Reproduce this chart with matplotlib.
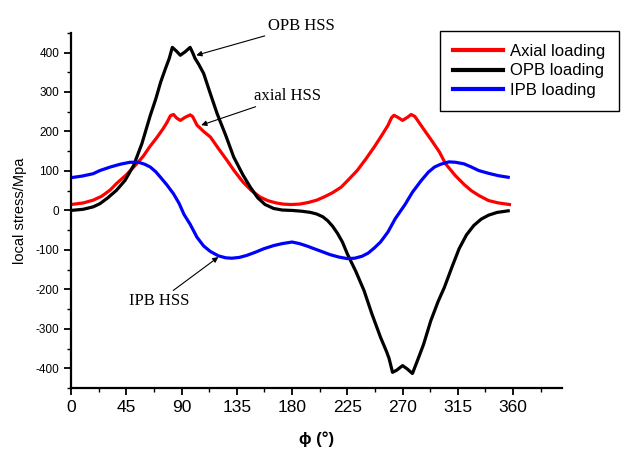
import matplotlib
matplotlib.use("Agg")
from matplotlib import pyplot as plt
from matplotlib.ticker import MultipleLocator

plt.rcParams['font.family'] = ['Liberation Sans', 'DejaVu Sans']
plt.rcParams['axes.unicode_minus'] = False

# axial loading (red)
axial_phi = [0, 10, 18, 25, 32, 37, 45, 53.5, 59, 64, 70, 75, 78, 81, 83.5, 86, 89, 93, 97, 99,
             102.6, 108, 113.5, 120, 127, 133, 140, 147, 154, 160, 167, 173, 179, 186, 193, 200,
             206, 213, 220, 226, 233, 240, 247, 253, 258, 261, 263, 266, 270, 274, 277, 280, 286,
             293, 300, 305, 313, 320, 326, 332, 340, 348, 357]
axial_val = [15, 19, 26, 36, 52, 68, 90, 118, 138, 161, 185, 207, 222, 240, 243, 234, 228, 236, 242, 238,
             216, 200, 186, 157, 127, 100, 72, 50, 34, 25, 19, 16, 15, 16, 20, 26,
             34, 45, 59, 78, 101, 130, 161, 190, 215, 235, 241, 236, 228, 236, 243, 238, 211,
             180, 148, 118, 88, 66, 50, 38, 25, 19, 15]

# OPB loading (black)
opb_phi = [0, 10, 18, 23.5, 30, 37, 44, 51, 57.7, 64.5, 69, 73, 77, 80, 82.5, 86, 89, 93, 97, 99,
           101, 104, 108, 113, 119, 126, 132.5, 140, 146, 152, 158, 165, 172, 180, 188, 195, 200,
           205, 209, 213, 217, 221, 225, 232, 238.6, 245, 252, 257, 259, 261.8, 265, 270, 274, 278,
           282, 287, 293, 299, 304, 310, 316, 322, 328, 334, 340, 347, 356]
opb_val = [0, 3, 9, 17, 32, 51, 76, 114, 169, 240, 282, 325, 360, 385, 413, 403, 393, 402, 413, 400,
           385, 370, 347, 300, 245, 190, 135, 90, 59, 32, 15, 5, 1, 0, -2, -5, -9,
           -16, -26, -40, -58, -80, -110, -155, -203, -262, -321, -358, -375, -410, -405, -393, -402, -413,
           -381, -340, -279, -230, -195, -145, -97, -62, -38, -22, -12, -5, -1]

# IPB loading (blue)
ipb_phi = [0, 9, 18, 23.5, 32, 40, 48, 55, 60, 64.5, 69, 72.6, 78, 83.5, 88, 92, 97, 102.6, 108,
           113.5, 120, 126, 131, 137, 143, 150, 157, 165, 172, 180, 186, 192, 198, 205, 211, 218,
           225, 231, 237, 242, 247, 252, 258, 264, 272, 278, 285, 291, 296, 301, 307.7, 313, 320,
           326, 332, 340, 348, 356]
ipb_val = [83, 87, 93, 101, 110, 117, 122, 122, 117, 110, 98, 85, 65, 42, 18, -10, -35, -68, -90,
           -104, -115, -120, -121, -119, -114, -106, -97, -89, -84, -80, -84, -90, -97, -105, -112, -118,
           -122, -121, -116, -108, -95, -80, -55, -21, 15, 46, 75, 97, 110, 117, 123, 122, 118,
           110, 101, 94, 88, 84]

fig = plt.figure(figsize=(6.25, 4.55), dpi=100)
ax = fig.add_axes([0.1136, 0.147, 0.786, 0.781])

ax.plot(axial_phi, axial_val, color='#ff0000', lw=2.3, label='Axial loading')
ax.plot(opb_phi, opb_val, color='black', lw=2.3, label='OPB loading')
ax.plot(ipb_phi, ipb_val, color='#0000ff', lw=2.3, label='IPB loading')

ax.set_xlim(0, 400)
ax.set_ylim(-450, 450)
ax.xaxis.set_minor_locator(MultipleLocator(22.5))
ax.yaxis.set_major_locator(MultipleLocator(100))
ax.yaxis.set_minor_locator(MultipleLocator(50))
ax.set_xticks([0, 45, 90, 135, 180, 225, 270, 315, 360])
ax.set_xticklabels(['0', '45', '90', '135', '180', '225', '270', '315', '360'])

for s in ['top', 'right']:
    ax.spines[s].set_visible(False)
for s in ['left', 'bottom']:
    ax.spines[s].set_linewidth(1.6)

ax.tick_params(axis='x', which='major', labelsize=12.5, length=5, width=1.3, direction='out')
ax.tick_params(axis='y', which='major', labelsize=8.5, length=5, width=1.3, direction='out')
ax.tick_params(which='minor', length=3, width=1.0, direction='out')

ax.set_ylabel('local stress/Mpa', fontsize=10.5, labelpad=6)
ax.set_xlabel('\u03d5 (\u00b0)', fontsize=12, fontweight='bold', labelpad=12)

leg = ax.legend(loc='upper left', bbox_to_anchor=(440 / 625, 1 - 31 / 455),
                bbox_transform=fig.transFigure, fontsize=12, handlelength=3.0,
                handletextpad=0.4, labelspacing=0.25, borderpad=0.8, borderaxespad=0,
                fancybox=False, framealpha=1)
leg.get_frame().set_edgecolor('black')
leg.get_frame().set_linewidth(1.0)
for line in leg.get_lines():
    line.set_linewidth(3.0)

serif = ['Liberation Serif', 'DejaVu Serif']
arrow = dict(arrowstyle='-|>', color='black', lw=0.8, mutation_scale=8, shrinkA=0, shrinkB=0)
ax.annotate('OPB HSS', xy=(102, 393), xytext=(160, 468), textcoords='data',
            fontsize=12, family=serif, va='center', ha='left', annotation_clip=False,
            arrowprops=arrow)
ax.annotate('axial HSS', xy=(106, 216), xytext=(149, 290), textcoords='data',
            fontsize=12, family=serif, va='center', ha='left', arrowprops=arrow)
ax.annotate('IPB HSS', xy=(120, -118), xytext=(96, -230), textcoords='data',
            fontsize=12, family=serif, va='center', ha='right', arrowprops=arrow)

fig.savefig('out.png', dpi=100)
